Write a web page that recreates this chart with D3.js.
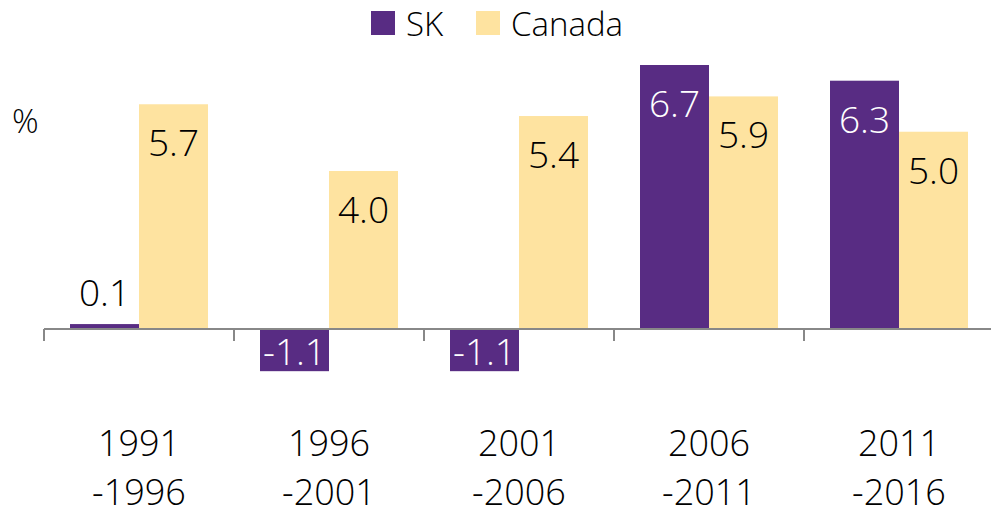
<!DOCTYPE html>
<html>
<head>
<meta charset="utf-8">
<script src="https://cdn.jsdelivr.net/npm/d3@7"></script>
<style>
  body { margin: 0; background: #fff; }
  text { font-family: "Open Sans", "Noto Sans", sans-serif; font-weight: 300; }
</style>
</head>
<body>
<div class="chart"></div>
<script>
const periods = [["1991", "-1996"], ["1996", "-2001"], ["2001", "-2006"], ["2006", "-2011"], ["2011", "-2016"]];
const seriesNames = ["SK", "Canada"];
const skValues = [0.1, -1.1, -1.1, 6.7, 6.3];
const canadaValues = [5.7, 4.0, 5.4, 5.9, 5.0];
const colors = ["#582c83", "#fee3a0"];

const width = 991, height = 516;
const x0 = 44, x1 = 994, zeroY = 328;

const svg = d3.select(".chart").append("svg")
  .attr("width", width)
  .attr("height", height);

const keys = periods.map(p => p.join(""));

let x = d3.scaleBand().domain(keys).range([x0, x1]).paddingInner(0).paddingOuter(0);
let xs = d3.scaleBand().domain(seriesNames).range([26, x.bandwidth() - 26]);
let y = d3.scaleLinear().domain([0, 6.7]).range([zeroY, zeroY - 263]);

const data = [];
keys.forEach((k, i) => {
  data.push({ key: k, series: "SK", value: skValues[i], color: colors[0], label: "#fff" });
  data.push({ key: k, series: "Canada", value: canadaValues[i], color: colors[1], label: "#000" });
});

// bars
svg.selectAll(".bar")
  .data(data)
  .enter()
  .append("rect")
  .attr("class", "bar")
  .attr("x", d => x(d.key) + xs(d.series))
  .attr("width", xs.bandwidth())
  .attr("y", d => Math.min(y(d.value), y(0)))
  .attr("height", d => Math.abs(y(d.value) - y(0)))
  .attr("fill", d => d.color);

// value labels
svg.selectAll(".val")
  .data(data)
  .enter()
  .append("text")
  .attr("class", "val")
  .attr("text-anchor", "middle")
  .attr("font-size", 37)
  .attr("x", d => x(d.key) + xs(d.series) + xs.bandwidth() / 2)
  .attr("y", d => {
    if (d.value < 0) return y(d.value) - 6;
    if (y(0) - y(d.value) > 60) return y(d.value) + 52;
    return y(d.value) - 18;
  })
  .attr("fill", d => (d.value < 0 || y(0) - y(d.value) > 60) ? d.label : "#000")
  .text(d => d.value.toFixed(1));

// axis
const xAxis = d3.axisBottom(x).tickSize(0).tickFormat("");
svg.append("g")
  .attr("class", "axis x-axis")
  .attr("transform", "translate(0," + (zeroY + 1) + ")")
  .call(xAxis)
  .call(g => g.select(".domain").attr("stroke", "#888").attr("stroke-width", 2).attr("d", "M" + x0 + ",0H" + x1));

svg.selectAll(".tick-mark")
  .data(keys)
  .enter()
  .append("line")
  .attr("x1", d => x(d)).attr("x2", d => x(d))
  .attr("y1", zeroY + 1).attr("y2", zeroY + 13)
  .attr("stroke", "#888")
  .attr("stroke-width", 2);

// category labels
const cat = svg.selectAll(".cat")
  .data(periods)
  .enter()
  .append("text")
  .attr("class", "cat")
  .attr("text-anchor", "middle")
  .attr("font-size", 36)
  .attr("fill", "#000");
cat.append("tspan")
  .attr("x", (d, i) => x(keys[i]) + x.bandwidth() / 2)
  .attr("y", 456)
  .text(d => d[0]);
cat.append("tspan")
  .attr("x", (d, i) => x(keys[i]) + x.bandwidth() / 2)
  .attr("y", 505)
  .text(d => d[1]);

// y unit
svg.append("text")
  .attr("x", 12)
  .attr("y", 133)
  .attr("font-size", 33)
  .text("%");

// legend
const legend = svg.append("g").attr("class", "legend");
const legendX = [371, 476];
seriesNames.forEach((s, i) => {
  legend.append("rect")
    .attr("x", legendX[i]).attr("y", 11)
    .attr("width", 24).attr("height", 24)
    .attr("fill", colors[i]);
  legend.append("text")
    .attr("x", legendX[i] + 35)
    .attr("y", 36)
    .attr("font-size", 33)
    .text(s);
});
</script>
</body>
</html>
